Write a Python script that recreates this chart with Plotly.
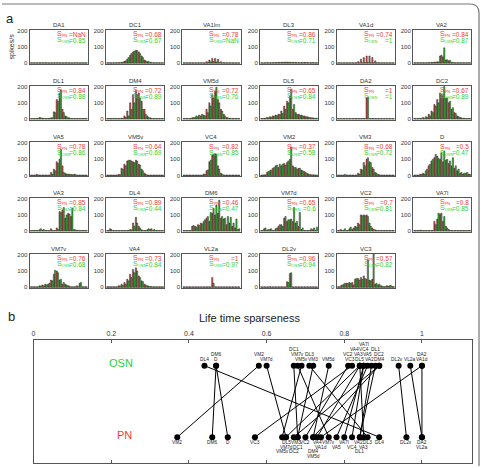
import math
import plotly.graph_objects as go

nan = float("nan")

# ---------------- data ----------------
glomeruli = ["DA1", "DC1", "VA1lm", "DL3", "VA1d", "VA2",
             "DL1", "DM4", "VM5d", "DL5", "DA2", "DC2",
             "VA5", "VM5v", "VC4", "VM2", "VM3", "D",
             "VA3", "DL4", "DM6", "VM7d", "VC2", "VA7l",
             "VM7v", "VA4", "VL2a", "DL2v", "VC3"]

s_pn = [nan, 0.68, 0.78, 0.86, 0.74, 0.84,
        0.84, 0.72, 0.72, 0.65, 1, 0.67,
        0.78, 0.64, 0.82, 0.37, 0.68, 0.5,
        0.85, 0.89, 0.46, 0.65, 0.7, 0.8,
        0.76, 0.73, 1, 0.96, 0.57]

s_osn = [0.85, 0.67, nan, 0.71, 1, 0.87,
         0.88, 0.89, 0.76, 0.84, 1, 0.89,
         0.86, 0.69, 0.85, 0.58, 0.72, 0.47,
         0.84, 0.44, 0.47, 0.6, 0.81, 0.85,
         0.68, 0.84, 0.97, 0.94, 0.82]

bins = list(range(20))

pn_counts = [
    [4,3,4,4,3,4,4,3,4,4,4,3,4,4,3,4,4,3,4,4],                 # DA1
    [4,4,4,4,5,6,12,25,50,70,80,70,45,20,10,5,4,4,4,4],         # DC1
    [4,4,4,4,4,4,4,4,10,20,30,30,25,10,5,4,4,4,4,4],            # VA1lm
    [4,4,5,4,5,5,6,6,7,8,7,6,6,5,5,6,5,4,5,4],                  # DL3
    [4,4,4,4,4,4,4,10,25,35,45,45,35,15,5,4,4,4,4,4],           # VA1d
    [4,4,4,4,4,5,6,8,10,45,40,20,15,6,4,4,4,4,4,4],             # VA2
    [4,4,4,10,6,4,5,8,45,120,160,60,20,8,4,4,4,4,4,4],          # DL1
    [4,4,4,4,4,5,20,50,100,150,175,160,110,60,20,8,4,4,4,4],    # DM4
    [4,4,4,8,10,15,20,25,60,100,150,170,120,60,30,10,5,4,4,4],  # VM5d
    [4,5,10,15,20,25,30,50,80,110,140,60,40,30,25,20,15,10,8,5],# DL5
    [4,4,4,4,4,4,4,4,4,4,130,4,4,4,4,4,4,4,4,4],                # DA2
    [4,4,5,10,15,30,50,90,120,160,150,130,100,60,40,20,10,5,4,4],# DC2
    [4,4,8,4,4,4,4,20,40,85,100,60,15,10,8,8,4,4,4,4],          # VA5
    [4,4,4,4,8,45,70,90,95,85,95,70,40,15,4,4,4,4,4,4],         # VM5v
    [4,4,4,4,4,4,4,10,30,85,125,135,60,15,4,4,4,4,4,4],         # VC4
    [4,5,20,30,45,60,50,60,75,80,100,60,50,45,35,25,15,8,5,4],  # VM2
    [4,4,4,4,4,4,4,15,40,80,100,85,50,20,8,4,4,4,4,4],          # VM3
    [4,4,8,15,30,60,90,110,120,100,85,95,75,60,45,30,15,10,15,10],# D
    [4,5,4,8,6,4,4,15,4,20,120,130,80,110,90,10,6,4,4,4],       # VA3
    [4,15,4,4,4,4,4,4,10,50,85,30,8,4,8,10,4,4,4,4],            # DL4
    [4,4,4,30,30,40,50,60,80,60,110,100,110,80,75,40,50,30,20,10],# DM6
    [4,15,5,10,4,15,30,40,80,60,70,60,50,30,10,4,4,5,10,5],     # VM7d
    [4,10,5,4,15,10,30,50,100,100,100,50,20,8,4,4,4,4,4,4],     # VC2
    [4,4,6,4,4,4,4,60,75,105,60,30,10,4,4,4,4,4,4,4],           # VA7l
    [4,4,4,10,15,20,20,45,80,100,45,20,20,10,4,4,10,25,4,4],    # VM7v
    [4,4,4,4,10,20,30,50,80,110,120,70,40,20,10,5,4,4,4,4],     # VA4
    [4,4,4,4,4,4,4,4,4,4,60,4,4,4,4,4,4,4,4,4],                 # VL2a
    [4,4,4,5,4,4,4,4,4,35,85,4,4,4,4,4,4,4,4,4],                # DL2v
    [4,10,20,25,30,30,50,55,60,70,50,45,50,20,15,10,5,10,10,5], # VC3
]

osn_counts = [
    [4,4,3,4,4,4,3,4,4,4,3,4,4,4,3,4,4,4,3,4],                 # DA1
    [4,4,4,4,4,8,15,35,60,75,78,60,35,15,12,6,4,4,4,4],         # DC1
    [3,3,3,3,3,3,3,3,5,8,10,8,5,3,3,3,3,3,3,3],                 # VA1lm
    [3,4,4,4,4,5,5,6,6,6,5,5,4,4,4,5,4,4,4,4],                  # DL3
    [3,3,3,3,3,3,3,3,4,5,5,4,3,3,3,3,3,3,3,3],                  # VA1d
    [4,4,4,4,4,4,5,6,8,50,95,22,18,6,4,4,4,4,4,4],              # VA2
    [4,4,4,8,5,4,5,8,40,110,180,40,15,8,4,4,4,4,4,4],           # DL1
    [4,4,4,4,4,4,10,20,60,100,150,130,60,30,10,5,4,4,4,4],      # DM4
    [4,4,4,10,20,25,30,20,40,80,130,195,100,50,20,8,5,4,4,4],   # VM5d
    [4,5,8,12,18,22,28,35,60,100,185,90,30,25,20,15,12,8,5,5],  # DL5
    [3,3,3,3,3,3,4,4,4,4,135,4,4,3,3,3,3,3,3,3],                # DA2
    [4,4,4,5,10,20,40,80,100,150,200,130,110,70,35,15,8,5,4,4], # DC2
    [4,4,5,4,4,4,4,10,30,75,160,20,10,8,6,8,4,4,4,4],           # VA5
    [4,4,4,4,6,40,60,95,90,80,90,65,30,10,4,4,4,4,4,4],         # VM5v
    [4,4,4,4,4,4,4,8,35,95,130,130,40,10,4,4,4,4,4,4],          # VC4
    [4,5,25,35,50,65,70,70,65,90,175,50,40,45,30,20,10,5,5,4],  # VM2
    [4,4,8,4,4,4,4,10,35,60,110,80,40,15,5,4,4,4,4,4],          # VM3
    [4,4,8,10,40,70,100,130,105,140,150,100,90,110,60,40,20,15,20,8],# D
    [4,5,4,15,10,4,4,5,4,10,115,145,100,105,140,8,5,4,4,4],     # VA3
    [4,10,4,4,4,4,4,4,8,30,50,20,5,4,15,15,10,4,4,4],           # DL4
    [4,4,4,35,25,35,45,70,90,115,140,160,190,90,80,90,85,50,75,15],# DM6
    [4,20,10,15,4,20,40,30,90,70,75,145,60,115,20,4,4,15,20,25],# VM7d
    [4,5,15,4,25,20,25,40,95,95,90,30,10,5,4,4,4,4,4,4],        # VC2
    [4,4,5,4,4,4,4,40,110,110,90,20,5,4,4,4,4,4,4,4],           # VA7l
    [4,4,4,8,10,15,25,40,105,90,50,30,15,8,4,4,5,30,4,4],       # VM7v
    [4,4,4,4,8,12,20,40,60,90,100,60,35,15,8,5,4,4,4,4],        # VA4
    [3,3,3,3,3,3,3,3,3,3,25,3,3,3,3,3,3,3,3,3],                 # VL2a
    [3,3,3,3,3,3,3,3,3,30,90,3,3,3,3,3,3,3,3,3],                # DL2v
    [4,15,25,25,25,15,55,45,50,55,170,40,220,25,20,8,5,8,12,5], # VC3
]

hist_ticks = [0, 100, 200]
b_ticks = [0, 0.2, 0.4, 0.6, 0.8, 1]
b_ticktext = ["0", "0.2", "0.4", "0.6", "0.8", "1"]

# ---------------- style ----------------
W, H = 482, 468
FONT = "Liberation Sans, Arial, sans-serif"
PN_FILL = "#d85a5a"
OSN_FILL = "#3cc03c"
PN_TXT = "#f03c3c"
OSN_TXT = "#2fd12f"
FRAME = "#555555"

def px(x):
    return x / W

def py(y):
    return 1 - y / H

def note(x, y, text, size, color="#333", xa="center", ref=("paper", "paper"), **kw):
    d = dict(xref=ref[0], yref=ref[1], x=x, y=y, text=text, showarrow=False, borderpad=0,
             xanchor=xa, yanchor="middle", font=dict(size=size, color=color, family=FONT))
    d.update(kw)
    return d

col_left = [27.7, 104.3, 181.0, 259.0, 336.0, 412.7]
row_top = [28.0, 84.3, 141.3, 197.3, 254.0]
box_w, box_h = 58.7, 34.5

fig = go.Figure()
layout = {}
annotations = []

for i, g in enumerate(glomeruli):
    r, c = divmod(i, 6)
    n = i + 1
    sx = "" if n == 1 else str(n)
    xa, ya = "x" + sx, "y" + sx
    x0, y0 = col_left[c], row_top[r]
    for counts, fill in ((pn_counts[i], PN_FILL), (osn_counts[i], OSN_FILL)):
        fig.add_trace(go.Bar(
            x=bins, y=counts, xaxis=xa, yaxis=ya,
            marker=dict(color=fill, line=dict(color="black", width=0.4)),
            showlegend=False, hoverinfo="skip"))
    layout["xaxis" + sx] = dict(
        domain=[px(x0), px(x0 + box_w)], anchor=ya, range=[-0.7, 19.7],
        showticklabels=False, ticks="", showline=True, mirror=True,
        linecolor=FRAME, linewidth=1, showgrid=False, zeroline=False)
    layout["yaxis" + sx] = dict(
        domain=[py(y0 + box_h), py(y0)], anchor=xa, range=[-4, 206],
        tickvals=hist_ticks, ticks="", tickfont=dict(size=6, color="#333", family=FONT),
        showline=True, mirror=True, linecolor=FRAME, linewidth=1,
        showgrid=False, zeroline=False)
    annotations.append(note(px(x0 + box_w / 2), py(y0 - 5), g, 6))
    for k, (lab, val, col) in enumerate((("PN", s_pn[i], PN_TXT), ("OSN", s_osn[i], OSN_TXT))):
        yy = py(y0 + 4.5 + 6.2 * k)
        annotations.append(note(px(x0 + box_w - 32.5), yy,
                                "S<sub><span style='font-size:4px'>%s</span></sub>" % lab,
                                7, col, xa="left"))
        vtxt = "NaN" if math.isnan(val) else ("%g" % val)
        annotations.append(note(px(x0 + box_w - 1), yy, "=" + vtxt, 6.5, col, xa="right"))

# ---------------- panel b ----------------
bx0, bx1, by0, by1 = 31.7, 471.7, 340.7, 465.0
xmax = (bx1 - bx0) / 390.0
nb = len(glomeruli) + 1
sb = str(nb)
layout["xaxis" + sb] = dict(
    domain=[px(bx0), px(bx1)], anchor="y" + sb, range=[0, xmax], side="top",
    tickvals=b_ticks, ticktext=b_ticktext, ticks="inside", ticklen=3, mirror="ticks",
    showline=True, linecolor=FRAME, linewidth=1, tickcolor=FRAME,
    tickfont=dict(size=7, color="#333", family=FONT), showgrid=False, zeroline=False)
layout["yaxis" + sb] = dict(
    domain=[py(by1), py(by0)], anchor="x" + sb, range=[0, 1],
    showticklabels=False, ticks="", showline=True, mirror=True, linecolor=FRAME,
    linewidth=1, showgrid=False, zeroline=False)

Y_OSN, Y_PN = 0.79, 0.21
pairs = [k for k in range(len(glomeruli))
         if not math.isnan(s_pn[k]) and not math.isnan(s_osn[k])]

lx, ly = [], []
for k in pairs:
    lx += [s_osn[k], s_pn[k], None]
    ly += [Y_OSN, Y_PN, None]
fig.add_trace(go.Scatter(x=lx, y=ly, mode="lines", xaxis="x" + sb, yaxis="y" + sb,
                         line=dict(color="black", width=1), showlegend=False, hoverinfo="skip"))
fig.add_trace(go.Scatter(x=[s_osn[k] for k in pairs], y=[Y_OSN] * len(pairs), mode="markers",
                         xaxis="x" + sb, yaxis="y" + sb, marker=dict(color="black", size=6),
                         showlegend=False, hoverinfo="skip"))
fig.add_trace(go.Scatter(x=[s_pn[k] for k in pairs], y=[Y_PN] * len(pairs), mode="markers",
                         xaxis="x" + sb, yaxis="y" + sb, marker=dict(color="black", size=6),
                         showlegend=False, hoverinfo="skip"))

def stack_labels(vals, names, char_px=2.9, gap=0.8, max_lev=4, lev_cost=1.5):
    """Right-to-left greedy stacking; a label may be nudged left to fit in a row."""
    order = sorted(range(len(vals)), key=lambda k: (-vals[k], k))
    rows = [[] for _ in range(max_lev)]
    out = {}
    for k in order:
        cx = bx0 + 390.0 * vals[k]
        w = len(names[k]) * char_px
        best = None
        for lev in range(max_lev):
            edge = min([p[0] for p in rows[lev]], default=1e9)
            shift = min(0.0, (edge - gap) - (cx + w / 2))
            cost = abs(shift) + lev * lev_cost
            if best is None or cost < best[0]:
                best = (cost, lev, shift)
        _, lev, shift = best
        left = cx + shift - w / 2
        rows[lev].append((left, left + w))
        out[k] = (lev, shift)
    return out

names_b = [glomeruli[k] for k in pairs]
st_osn = stack_labels([s_osn[k] for k in pairs], names_b)
st_pn = stack_labels([s_pn[k] for k in pairs], names_b)
for j, k in enumerate(pairs):
    lev, sh = st_osn[j]
    annotations.append(note(s_osn[k], Y_OSN, glomeruli[k], 4.8, "#222", ref=("x" + sb, "y" + sb),
                            yshift=6 + 5.0 * lev, xshift=sh))
    lev, sh = st_pn[j]
    annotations.append(note(s_pn[k], Y_PN, glomeruli[k], 4.8, "#222", ref=("x" + sb, "y" + sb),
                            yshift=-(5.5 + 4.6 * lev), xshift=sh))

annotations.append(note(0.226, Y_OSN, "OSN", 11, OSN_TXT, ref=("x" + sb, "y" + sb), yshift=3))
annotations.append(note(0.234, Y_PN, "PN", 11, PN_TXT, ref=("x" + sb, "y" + sb), yshift=2))
annotations.append(note(px(249), py(319), "Life time sparseness", 11, "#222"))
annotations.append(note(px(8), py(17), "a", 13, "#222"))
annotations.append(note(px(10), py(317), "b", 13, "#222"))
annotations.append(note(px(10), py(45), "spikes/s", 7, "#333", textangle=-90))

frame_path = "M 0,{t} L {a},{t} Q {r},{t} {r},{b} L {r},0".format(
    t=py(2), a=px(470), r=px(479), b=py(11))

fig.update_layout(
    width=W, height=H, autosize=False,
    margin=dict(l=0, r=0, t=0, b=0),
    paper_bgcolor="white", plot_bgcolor="white",
    barmode="group", bargap=0.12, bargroupgap=0,
    showlegend=False, annotations=annotations,
    shapes=[dict(type="path", xref="paper", yref="paper", path=frame_path,
                 line=dict(color="#777", width=1.2))],
    font=dict(family=FONT),
    **layout)

fig.write_html("out.html")
